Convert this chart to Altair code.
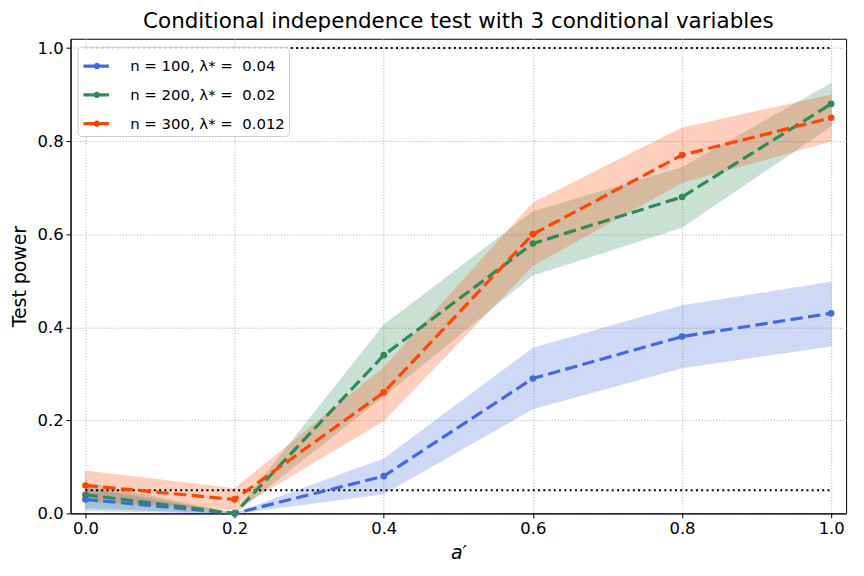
import altair as alt
import pandas as pd

# ---- data ----
a_vals = [0.0, 0.2, 0.4, 0.6, 0.8, 1.0]
labels = ["n = 100, λ* = \u00a00.04\u00a0\u00a0\u00a0",
          "n = 200, λ* = \u00a00.02\u00a0\u00a0\u00a0",
          "n = 300, λ* = \u00a00.012\u00a0\u00a0\u00a0"]
colors = ["#4169E1", "#2E8B57", "#FF4500"]

power_100 = [0.03, 0.00, 0.08, 0.29, 0.38, 0.43]
low_100 = [0.006, 0.00, 0.042, 0.225, 0.313, 0.36]
high_100 = [0.055, 0.00, 0.117, 0.355, 0.446, 0.497]

power_200 = [0.04, 0.00, 0.34, 0.58, 0.68, 0.88]
low_200 = [0.012, 0.00, 0.252, 0.512, 0.615, 0.832]
high_200 = [0.066, 0.00, 0.405, 0.648, 0.743, 0.924]

power_300 = [0.06, 0.03, 0.26, 0.60, 0.77, 0.85]
low_300 = [0.027, 0.008, 0.199, 0.533, 0.711, 0.80]
high_300 = [0.091, 0.053, 0.313, 0.667, 0.828, 0.899]

ref_levels = [0.05, 1.0]
x_ticks = [0.0, 0.2, 0.4, 0.6, 0.8, 1.0]
y_ticks = [0.0, 0.2, 0.4, 0.6, 0.8, 1.0]

rows = []
for lab, p, lo, hi in zip(labels,
                          [power_100, power_200, power_300],
                          [low_100, low_200, low_300],
                          [high_100, high_200, high_300]):
    for a, pv, l, h in zip(a_vals, p, lo, hi):
        rows.append({"a": a, "power": pv, "low": l, "high": h, "series": lab})
df = pd.DataFrame(rows)
ref_df = pd.DataFrame({"level": ref_levels, "x0": [0.0] * 2, "x1": [1.0] * 2})

xscale = alt.Scale(domain=[-0.02, 1.02], nice=False, zero=False)
yscale = alt.Scale(domain=[0, 1.02], nice=False)
cscale = alt.Scale(domain=labels, range=colors)

xaxis = alt.Axis(values=x_ticks, format=".1f", title="a′", titleFontStyle="italic",
                 titleFontSize=19, titlePadding=6)
yaxis = alt.Axis(values=y_ticks, format=".1f", title="Test power",
                 titleFontSize=19, titlePadding=8)

# legend symbol: line segment with a dot made of two concentric rings (stroke only)
sym_path = ("M-1,0H0.9"
            "M0.05,0A0.05,0.05,0,1,1,-0.05,0A0.05,0.05,0,1,1,0.05,0"
            "M0.12,0A0.12,0.12,0,1,1,-0.12,0A0.12,0.12,0,1,1,0.12,0")


def build(extra):
    base = alt.Chart(df)
    bands = base.mark_area(opacity=0.25, strokeWidth=1).encode(
        x=alt.X("a:Q", scale=xscale, axis=xaxis),
        y=alt.Y("low:Q", scale=yscale, axis=yaxis),
        y2="high:Q",
        color=alt.Color("series:N", scale=cscale, legend=None),
        stroke=alt.Stroke("series:N", scale=cscale, legend=None),
    )
    lines = base.mark_line(strokeDash=[12.5, 5.4], strokeWidth=3.2).encode(
        x="a:Q",
        y="power:Q",
        color=alt.Color(
            "series:N", scale=cscale, title=None,
            legend=alt.Legend(
                orient="none", legendX=7, legendY=8,
                symbolType=sym_path, symbolSize=729, symbolStrokeWidth=3.2,
                labelFontSize=15, labelOffset=18, labelColor="black",
                labelFont="DejaVu Sans", labelLimit=400,
                cornerRadius=4, fillColor="rgba(255,255,255,0.85)",
                **extra,
            ),
        ),
    )
    points = base.mark_circle(size=45, opacity=1).encode(
        x="a:Q",
        y="power:Q",
        color=alt.Color("series:N", scale=cscale, legend=None),
    )
    refs = alt.Chart(ref_df).mark_rule(color="black", strokeDash=[2, 3.3],
                                       strokeWidth=2).encode(
        x="x0:Q", x2="x1:Q", y="level:Q"
    )
    ch = alt.layer(bands, refs, lines, points).resolve_legend(
        color="independent", stroke="independent"
    ).properties(
        width=781, height=478,
        title=alt.TitleParams("Conditional independence test with 3 conditional variables",
                              fontSize=21.6, fontWeight="normal", font="DejaVu Sans",
                              color="black", offset=6),
        autosize=alt.AutoSizeParams(type="none"),
        padding={"left": 63, "top": 29, "right": 10, "bottom": 53},
    ).configure_view(
        stroke="black", strokeWidth=1
    ).configure_axis(
        labelFont="DejaVu Sans", titleFont="DejaVu Sans", labelFontSize=16.5,
        labelColor="black", titleColor="black", titleFontWeight="normal",
        domainColor="black", tickColor="black", tickSize=4.5, labelPadding=3,
        gridColor="#b0b0b0", gridDash=[1.1, 1.8], gridWidth=1,
    ).configure_legend(
        padding=4, rowPadding=5, strokeColor="#cccccc"
    )
    ch.to_dict()
    return ch


chart = None
for extra in ({"symbolDash": [1, 0]}, {}):
    try:
        chart = build(extra)
        break
    except Exception:
        continue

chart.save("out.html", embed_options={"renderer": "svg", "actions": False})
